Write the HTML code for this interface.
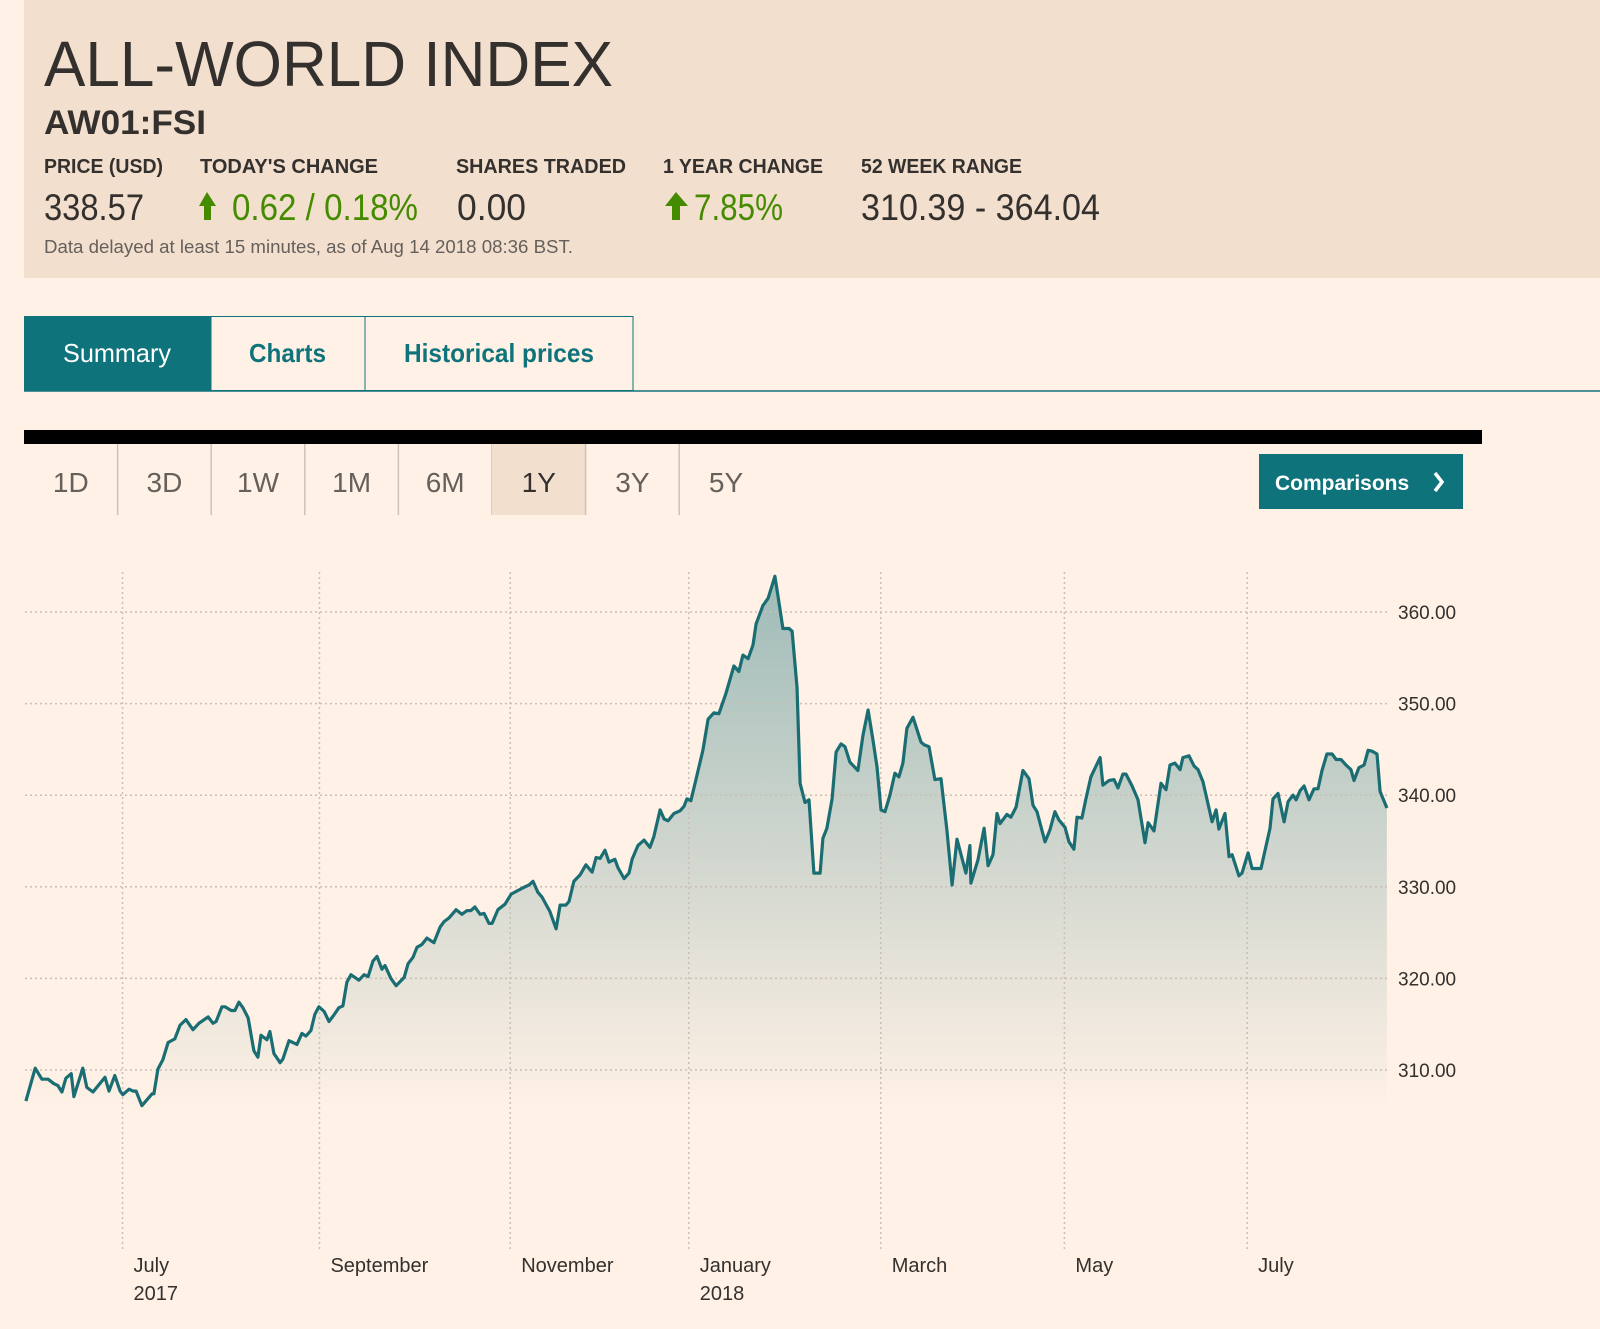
<!DOCTYPE html>
<html><head><meta charset="utf-8"><style>
body{margin:0;background:#fff1e5;width:1600px;height:1329px;overflow:hidden;font-family:"Liberation Sans",sans-serif}
svg{position:absolute;left:0;top:0}
</style></head><body>
<svg width="1600" height="1329" viewBox="0 0 1600 1329">
<defs><linearGradient id="fillg" x1="0" y1="575" x2="0" y2="1110" gradientUnits="userSpaceOnUse">
<stop offset="0" stop-color="#9fbbb8"/><stop offset="0.55" stop-color="#d3d8d0"/><stop offset="1" stop-color="#fff1e5"/></linearGradient></defs>
<g>
<rect x="24" y="0" width="1576" height="278" fill="#f2dfce"/>
<text x="44" y="86" font-size="64" fill="#33302e" textLength="569" lengthAdjust="spacingAndGlyphs">ALL-WORLD INDEX</text>
<text x="44" y="134" font-size="34" font-weight="bold" fill="#33302e" textLength="162" lengthAdjust="spacingAndGlyphs">AW01:FSI</text>
<g font-size="20" font-weight="bold" fill="#33302e">
<text x="44" y="173" textLength="119" lengthAdjust="spacingAndGlyphs">PRICE (USD)</text>
<text x="200" y="173" textLength="178" lengthAdjust="spacingAndGlyphs">TODAY'S CHANGE</text>
<text x="456" y="173" textLength="170" lengthAdjust="spacingAndGlyphs">SHARES TRADED</text>
<text x="663" y="173" textLength="160" lengthAdjust="spacingAndGlyphs">1 YEAR CHANGE</text>
<text x="861" y="173" textLength="161" lengthAdjust="spacingAndGlyphs">52 WEEK RANGE</text>
</g>
<g font-size="37">
<text x="44" y="220" fill="#33302e" textLength="100" lengthAdjust="spacingAndGlyphs">338.57</text>
<polygon points="207,192 199,206 204,206 204,220 211,220 211,206 216,206" fill="#458b00"/>
<text x="232" y="220" fill="#458b00" textLength="186" lengthAdjust="spacingAndGlyphs">0.62 / 0.18%</text>
<text x="457" y="220" fill="#33302e" textLength="69" lengthAdjust="spacingAndGlyphs">0.00</text>
<polygon points="676,192 665,206 672,206 672,220 680,220 680,206 688,206" fill="#458b00"/>
<text x="694" y="220" fill="#458b00" textLength="89" lengthAdjust="spacingAndGlyphs">7.85%</text>
<text x="861" y="220" fill="#33302e" textLength="239" lengthAdjust="spacingAndGlyphs">310.39 - 364.04</text>
</g>
<text x="44" y="253" font-size="18" fill="#66605c" textLength="529" lengthAdjust="spacingAndGlyphs">Data delayed at least 15 minutes, as of Aug 14 2018 08:36 BST.</text>
</g>
<g>
<line x1="24" y1="391" x2="1600" y2="391" stroke="#0f737b" stroke-width="1.5"/>
<rect x="24" y="316" width="187" height="75" fill="#0f737b"/>
<rect x="211" y="316.5" width="154" height="74" fill="#fff1e5" stroke="#0f737b"/>
<rect x="365" y="316.5" width="268" height="74" fill="#fff1e5" stroke="#0f737b"/>
<text x="63" y="362" font-size="26" fill="#fff" textLength="108" lengthAdjust="spacingAndGlyphs">Summary</text>
<text x="249" y="362" font-size="26" font-weight="bold" fill="#0f737b" textLength="77" lengthAdjust="spacingAndGlyphs">Charts</text>
<text x="404" y="362" font-size="26" font-weight="bold" fill="#0f737b" textLength="190" lengthAdjust="spacingAndGlyphs">Historical prices</text>
</g>
<rect x="24" y="430" width="1458" height="14" fill="#000"/>
<g id="ranges"></g>
<g>
<rect x="1259" y="454" width="204" height="55" fill="#0f737b"/>
<text x="1275" y="490" font-size="21" font-weight="bold" fill="#fff">Comparisons</text>
<polyline points="1435,473 1442,482 1435,491" fill="none" stroke="#fff" stroke-width="3.5"/>
</g>
<g id="chart"></g>
</svg>
<script>
const rangeLabels=["1D","3D","1W","1M","6M","1Y","3Y","5Y"];
const days=[0.3,3.3,5.5,7.5,9.4,10.7,12.0,13.3,15.0,15.9,18.8,20.1,22.1,26.0,27.3,29.2,30.9,31.8,33.8,35.1,36.1,38.0,41.3,41.9,43.2,44.8,46.5,48.7,50.4,52.3,54.6,56.5,59.5,61.1,62.1,64.0,65.0,67.0,68.2,69.5,70.8,72.5,74.4,75.7,76.7,78.6,79.6,80.9,82.9,83.8,85.8,88.4,90.0,91.3,92.9,94.2,95.5,97.2,98.8,100.4,102.0,103.3,104.6,105.9,108.5,110.2,111.5,113.1,114.4,116.0,117.0,118.9,120.6,123.2,124.5,126.1,127.4,129.0,130.6,132.9,134.9,136.2,137.8,140.1,142.0,143.6,144.9,146.2,147.9,149.2,150.8,151.8,153.7,156.0,158.0,160.2,162.5,163.8,165.1,166.7,168.0,170.6,172.6,173.9,175.8,176.8,178.4,180.4,182.3,184.3,185.6,186.9,188.5,189.8,191.7,192.7,194.7,196.3,197.3,199.2,201.2,203.1,204.4,206.4,207.7,209.0,210.9,212.9,214.2,215.1,216.4,220.3,222.0,223.9,225.5,227.8,230.4,232.0,233.3,235.0,236.6,237.6,239.8,241.5,243.7,244.7,246.3,248.3,249.3,250.9,251.9,253.5,254.8,256.4,258.4,259.3,260.6,262.3,263.6,265.2,266.5,268.1,270.7,272.3,274.0,275.6,276.9,278.2,279.5,281.1,282.7,284.0,285.3,286.6,288.6,291.2,292.2,293.8,295.7,297.7,299.6,301.3,302.9,305.8,307.1,307.4,309.7,311.7,313.0,314.6,315.9,316.9,319.1,320.4,322.1,324.3,326.3,327.6,328.9,331.5,333.1,334.7,336.0,338.0,339.3,340.9,341.9,343.5,344.8,346.4,348.1,349.4,350.3,352.3,353.9,355.2,356.8,357.8,359.8,361.7,364.0,365.0,366.9,369.2,370.8,372.1,373.7,375.4,376.3,378.3,379.9,381.2,382.8,385.8,387.1,388.0,390.0,391.3,392.3,394.5,395.5,397.5,398.8,401.7,404.6,405.6,407.2,409.2,410.5,412.1,413.1,414.4,415.7,417.3,418.9,420.2,421.5,423.1,424.8,426.1,427.7,429.3,430.9,431.9,433.5,435.2,436.5,437.8,439.4,440.4,442.6];
const prices=[306.6,310.2,309.0,309.0,308.5,308.3,307.6,309.1,309.6,307.1,310.2,308.1,307.6,309.2,307.7,309.4,307.7,307.3,307.9,307.7,307.7,306.1,307.4,307.4,310.1,311.1,313.0,313.4,314.9,315.5,314.4,315.1,315.8,315.1,315.3,316.9,316.9,316.5,316.5,317.4,316.8,315.7,312.1,311.4,313.8,313.3,314.2,311.8,310.8,311.2,313.2,312.8,314.0,313.7,314.3,316.1,316.9,316.4,315.3,316.0,316.8,317.0,319.6,320.4,319.8,320.4,320.2,321.9,322.4,321.0,321.4,320.0,319.2,320.1,321.6,322.3,323.4,323.7,324.4,323.9,325.6,326.2,326.6,327.5,327.0,327.4,327.4,327.8,327.0,327.1,326.0,326.0,327.5,328.1,329.2,329.6,330.0,330.2,330.6,329.4,328.9,327.3,325.4,328.0,328.0,328.4,330.6,331.3,332.4,331.6,333.2,333.1,334.0,332.7,333.0,332.1,330.9,331.5,333.0,334.5,335.1,334.3,335.5,338.4,337.4,337.2,338.0,338.3,338.8,339.6,339.4,344.9,348.3,349.0,348.9,351.1,354.1,353.5,355.3,354.9,356.4,358.7,360.7,361.5,363.9,361.8,358.2,358.2,357.9,351.8,341.3,339.2,339.5,331.5,331.5,335.3,336.4,339.6,344.7,345.6,345.3,343.6,342.7,346.5,349.3,346.0,343.1,338.4,338.2,340.0,342.4,342.0,343.5,347.3,348.5,345.8,345.5,345.3,341.7,341.8,336.2,330.2,335.2,331.5,334.5,330.4,332.9,336.4,332.3,333.5,338.0,336.9,337.9,337.6,338.7,342.7,341.8,338.9,338.2,334.9,336.2,338.2,337.3,336.5,334.9,334.1,337.6,337.5,339.6,342.0,343.2,344.1,341.1,341.6,341.7,340.8,342.3,342.3,341.0,339.5,334.8,337.0,336.1,341.3,340.6,343.3,343.5,342.8,344.1,344.3,343.2,342.8,341.5,337.1,338.4,336.3,338.0,333.3,333.5,331.2,331.5,333.7,332.0,332.0,336.4,339.6,340.2,337.1,339.3,340.0,339.5,340.5,341.0,339.5,340.7,340.7,342.7,344.5,344.5,343.9,343.9,343.3,342.8,341.6,343.0,343.3,344.9,344.8,344.5,340.4,338.6];
const yTicks=[310,320,330,340,350,360];
const monthDays=[31.7,95.7,157.7,215.7,278.1,337.8,397.2];
const monthLabels=["July","September","November","January","March","May","July"];
const yearLabels=["2017","","","2018","","",""];

const NS="http://www.w3.org/2000/svg";
function mk(tag,attrs,parent){const e=document.createElementNS(NS,tag);for(const k in attrs)e.setAttribute(k,attrs[k]);parent.appendChild(e);return e;}
const xScale=d=>25+d*3.077;
const yScale=v=>612+(360-v)*9.16;

const rg=document.getElementById('ranges');
rangeLabels.forEach((l,i)=>{
  const x0=24+i*93.6;
  if(l==="1Y"){mk('rect',{x:x0,y:444,width:93.6,height:71,fill:'#f2dfce'},rg);}
  const t=mk('text',{x:x0+46.8,y:492,'font-size':28,'text-anchor':'middle',fill:l==="1Y"?'#33302e':'#66605c'},rg);
  t.textContent=l;
  
  
  if(i<rangeLabels.length-1){mk('line',{x1:x0+93.6,y1:444,x2:x0+93.6,y2:515,stroke:'#ccc1b7','stroke-width':1.5},rg);}
});

const ch=document.getElementById('chart');
let pts=days.map((d,i)=>xScale(d).toFixed(1)+','+yScale(prices[i]).toFixed(1));
const area=mk('polygon',{points:pts.join(' ')+' '+xScale(days[days.length-1]).toFixed(1)+',1110 '+xScale(days[0]).toFixed(1)+',1110',fill:'url(#fillg)'},ch);


yTicks.forEach(v=>{
  const y=yScale(v);
  const l=mk('line',{x1:25,y1:y,x2:1388,y2:y,stroke:'#c9bfb6','stroke-width':1.5,'stroke-dasharray':'2,3'},ch);
  
  
  const t=mk('text',{x:1398,y:y+7,'font-size':19,fill:'#33302e'},ch);
  t.textContent=v.toFixed(2);
  
  
});
monthDays.forEach((d,i)=>{
  const x=xScale(d);
  const l=mk('line',{x1:x,y1:572,x2:x,y2:1252,stroke:'#c9bfb6','stroke-width':1.5,'stroke-dasharray':'2,3'},ch);
  
  
  const t=mk('text',{x:x+11,y:1272,'font-size':20,fill:'#33302e'},ch);
  t.textContent=monthLabels[i];
  
  
  if(yearLabels[i]){const t2=mk('text',{x:x+11,y:1300,'font-size':20,fill:'#33302e'},ch);t2.textContent=yearLabels[i];
  
  }
});
const line=mk('polyline',{points:pts.join(' '),fill:'none',stroke:'#1a6e73','stroke-width':3.2,'stroke-linejoin':'round'},ch);


</script>
</body></html>
